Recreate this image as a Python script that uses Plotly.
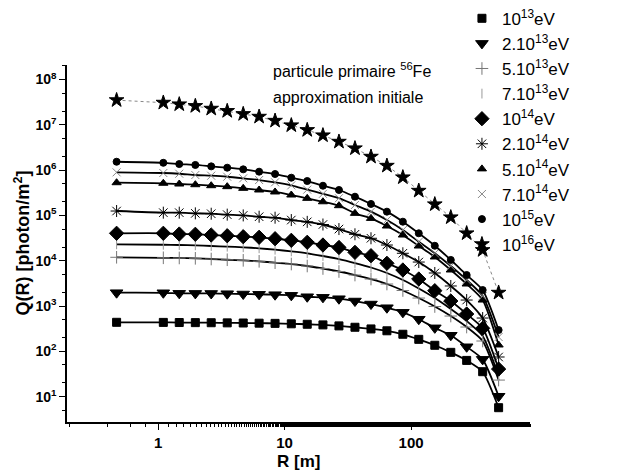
import plotly.graph_objects as go

# R values [m]
R = [0.47, 1.10, 1.47, 1.97, 2.63, 3.52, 4.71, 6.29, 8.41, 11.3, 15.1, 20.1,
     26.9, 36.0, 48.2, 64.4, 86.1, 115, 154, 206, 275, 368, 492]

q_1e13 = [437, 435, 432, 430, 428, 425, 422, 418, 414, 405, 396, 383, 364, 340,
          312, 284, 238, 184, 136, 95, 63, 35.5, 5.7]
q_2e13 = [1968, 1960, 1905, 1900, 1895, 1870, 1841, 1812, 1778, 1722, 1603, 1555,
          1449, 1289, 1106, 917, 726, 511, 330, 226, 126, 66.5, 10.2]
q_5e13 = [11900, 11600, 11500, 11300, 10900, 10500, 10200, 9700, 9040, 8450, 7640,
          6730, 5780, 4830, 3940, 3060, 2200, 1500, 975, 601, 344, 169, 23.2]
q_7e13 = [23000, 22500, 22200, 21900, 21100, 20400, 19800, 18800, 17500, 16100,
          14600, 12700, 10900, 8900, 7080, 5360, 3750, 2430, 1500, 859, 467, 218, 28.5]
q_1e14 = [40300, 40300, 38800, 38300, 36900, 35600, 33900, 32900, 30600, 28200,
          25500, 22200, 19600, 15300, 12900, 8770, 6240, 3950, 2180, 1290, 666, 322, 40.6]
q_2e14 = [125000, 115000, 115000, 111000, 109000, 104000, 100000, 93500, 89000,
          79000, 72000, 63000, 50000, 38300, 31300, 22200, 14600, 9350, 5360, 2770,
          1355, 543, 75]
q_5e14 = [527000, 512000, 493000, 476000, 453000, 431000, 396000, 364000, 329000,
          282000, 238000, 200000, 164000, 111000, 86000, 58300, 36900, 21100, 12100,
          6240, 3060, 1355, 138]
q_7e14 = [893000, 863000, 832000, 780000, 752000, 714000, 659000, 604000, 538000,
          461000, 370000, 300000, 240000, 170000, 121000, 79000, 47600, 26200, 14600,
          7640, 3750, 1660, 207]
q_1e15 = [1530000, 1450000, 1360000, 1300000, 1210000, 1130000, 1040000, 923000,
          820000, 680000, 574000, 452000, 364000, 259000, 179000, 121000, 72700,
          40300, 21400, 10400, 4830, 2250, 295]
q_1e16 = [3.5e7, 3.08e7, 2.83e7, 2.60e7, 2.27e7, 2.02e7, 1.73e7, 1.51e7, 1.23e7,
          9.75e6, 7.67e6, 5.86e6, 4.24e6, 3.03e6, 1.98e6, 1.25e6, 6.93e5, 3.51e5,
          1.76e5, 9.08e4, 4.03e4, 1.72e4, 1.97e3]

labels = ["10<sup>13</sup>eV", "2.10<sup>13</sup>eV", "5.10<sup>13</sup>eV",
          "7.10<sup>13</sup>eV", "10<sup>14</sup>eV", "2.10<sup>14</sup>eV",
          "5.10<sup>14</sup>eV", "7.10<sup>14</sup>eV", "10<sup>15</sup>eV",
          "10<sup>16</sup>eV"]

y_ticks = [10, 100, 1000, 1e4, 1e5, 1e6, 1e7, 1e8]
y_ticktext = ["10<sup>1</sup>", "10<sup>2</sup>", "10<sup>3</sup>", "10<sup>4</sup>",
              "10<sup>5</sup>", "10<sup>6</sup>", "10<sup>7</sup>", "10<sup>8</sup>"]
x_ticks = [1, 10, 100]
x_ticktext = ["1", "10", "100"]

series = [q_1e13, q_2e13, q_5e13, q_7e13, q_1e14, q_2e14, q_5e14, q_7e14, q_1e15, q_1e16]
symbols = ["square", "triangle-down", "cross-thin-open", "line-ns-open", "diamond",
           "asterisk-open", "triangle-up", "x-thin-open", "circle", "star"]
sizes = [8, 11, 9, 7, 11, 10, 8, 8, 7, 11]
mcolors = ["black", "black", "#777777", "#999999", "black", "black", "black",
           "#888888", "black", "black"]

fig = go.Figure()
for i, ys in enumerate(series):
    mk = dict(symbol=symbols[i], size=sizes[i], color=mcolors[i],
              line=dict(color=mcolors[i], width=1))
    if i < 9:
        ln = dict(color="black", width=1.8, shape="spline", smoothing=0.6)
    else:
        ln = dict(color="#888888", width=1, dash="dot")
    fig.add_trace(go.Scatter(x=R, y=ys, mode="lines+markers", line=ln, marker=mk,
                             showlegend=False))

# legend entries (markers only)
for i, lab in enumerate(labels):
    mk = dict(symbol=symbols[i], size=sizes[i], color=mcolors[i],
              line=dict(color=mcolors[i], width=1))
    fig.add_trace(go.Scatter(x=[None], y=[None], mode="markers", marker=mk, name=lab))

fig.update_layout(
    width=622, height=472,
    margin=dict(l=67, r=92, t=65, b=50, autoexpand=False),
    paper_bgcolor="white", plot_bgcolor="white",
    font=dict(family="Liberation Sans, Arial, sans-serif", color="black", size=14),
    showlegend=True,
    legend=dict(x=0.853, y=1.18, xanchor="left", yanchor="top", maxheight=420,
                font=dict(size=17), bgcolor="rgba(0,0,0,0)", tracegroupgap=0,
                itemwidth=30),
    xaxis=dict(type="log", range=[-0.72, 2.94], showline=True, linecolor="black",
               linewidth=1.5, ticks="outside", ticklen=6, tickwidth=1.2,
               tickcolor="black", tickvals=x_ticks, ticktext=x_ticktext,
               tickfont=dict(size=15, weight="bold"),
               minor=dict(ticks="outside", ticklen=3, tickcolor="black", showgrid=False),
               showgrid=False, zeroline=False, mirror=False),
    yaxis=dict(type="log", range=[0.44, 8.32], showline=True, linecolor="black",
               linewidth=1.5, ticks="outside", ticklen=6, tickwidth=1.2,
               tickcolor="black", tickvals=y_ticks, ticktext=y_ticktext,
               tickfont=dict(size=14, weight="bold"),
               minor=dict(ticks="outside", ticklen=3, tickcolor="black", showgrid=False),
               showgrid=False, zeroline=False, mirror=False),
    annotations=[
        dict(xref="paper", yref="paper", x=0.44, y=0.986, xanchor="left", yanchor="middle",
             text="particule primaire <sup>56</sup>Fe", showarrow=False,
             font=dict(size=16)),
        dict(xref="paper", yref="paper", x=0.44, y=0.910, xanchor="left", yanchor="middle",
             text="approximation initiale", showarrow=False, font=dict(size=16)),
        dict(xref="paper", yref="paper", x=0.5, y=-0.11, xanchor="center",
             yanchor="middle", text="R [m]", showarrow=False,
             font=dict(size=17, weight="bold")),
        dict(xref="paper", yref="paper", x=-0.097, y=0.5, xanchor="center",
             yanchor="middle", text="Q(R) [photon/m<sup>2</sup>]", textangle=-90,
             showarrow=False, font=dict(size=18, weight="bold")),
    ],
)

fig.write_html("out.html")
